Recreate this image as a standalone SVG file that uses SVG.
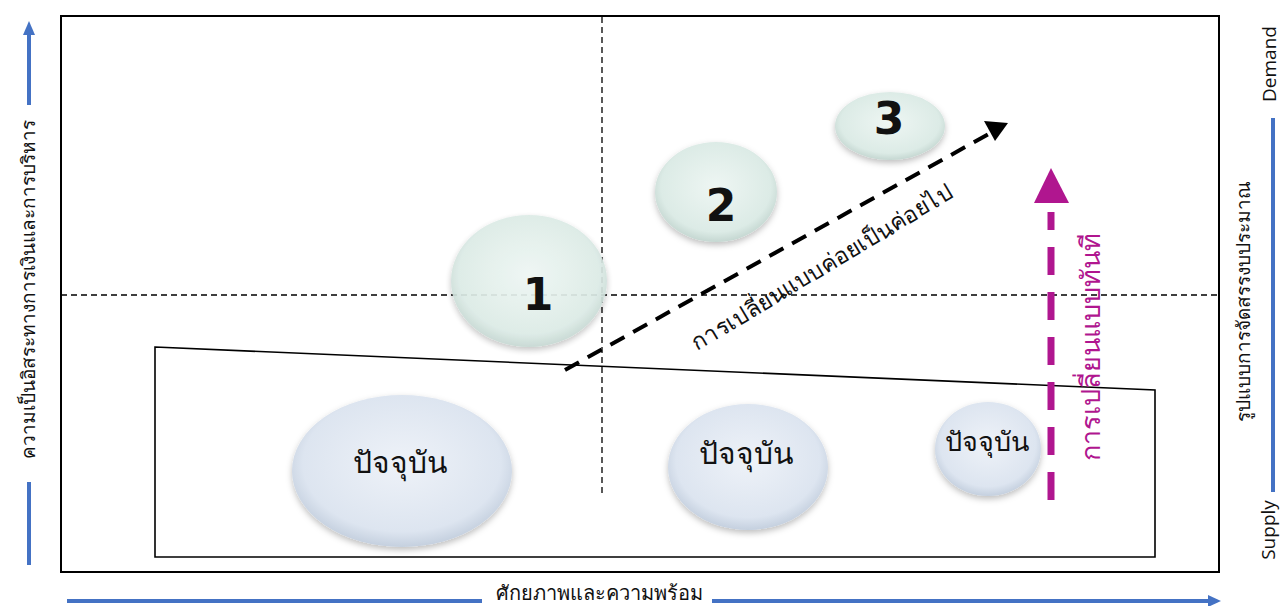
<svg xmlns="http://www.w3.org/2000/svg" width="1280" height="606" viewBox="0 0 1280 606">
<style>
.num{font-family:"DejaVu Sans","Liberation Sans",sans-serif;font-weight:bold;font-size:44px;fill:#111;text-anchor:middle;}
.cur{font-family:"Noto Sans","Liberation Sans",sans-serif;font-size:30px;fill:#111;text-anchor:middle;}
.axis{fill:none;stroke:#4472C4;stroke-width:4;}
.guide{fill:none;stroke:#000;stroke-width:1.3;stroke-dasharray:6 4;}
.lbl{font-family:"Noto Sans","Liberation Sans",sans-serif;font-size:19px;fill:#111;text-anchor:middle;}
.en{font-family:"Open Sans","Liberation Sans",sans-serif;font-size:19px;fill:#111;text-anchor:middle;}
</style>
<defs>
<radialGradient id="gGreen" cx="0.5" cy="0.45" r="0.6">
<stop offset="0" stop-color="#eef6f3"/>
<stop offset="0.75" stop-color="#dcebe6"/>
<stop offset="1" stop-color="#b9cdc7"/>
</radialGradient>
<radialGradient id="gBlue" cx="0.5" cy="0.45" r="0.6">
<stop offset="0" stop-color="#eef2f8"/>
<stop offset="0.75" stop-color="#dde5f0"/>
<stop offset="1" stop-color="#b8c5d6"/>
</radialGradient>
<filter id="sh" x="-20%" y="-20%" width="140%" height="150%">
<feDropShadow dx="0" dy="3" stdDeviation="3" flood-color="#000" flood-opacity="0.25"/>
</filter>
</defs>
<rect width="1280" height="606" fill="#fff"/>

<g id="frame">
<rect x="61" y="16" width="1158" height="556" fill="none" stroke="#000" stroke-width="2"/>
</g>

<g id="guides">
<line class="guide" x1="61" y1="295" x2="1219" y2="295"/>
<line class="guide" x1="602" y1="17" x2="602" y2="495"/>
</g>

<g id="current-box">
<polygon points="155,347 1155,390 1155,557 155,557" fill="none" stroke="#000" stroke-width="1.6"/>
</g>

<g id="node-1">
<ellipse cx="529" cy="281" rx="78" ry="66" fill="url(#gGreen)" filter="url(#sh)" opacity="0.92"/>
<text class="num" x="538" y="310">1</text>
</g>
<g id="node-2">
<ellipse cx="716" cy="192" rx="61" ry="50" fill="url(#gGreen)" filter="url(#sh)"/>
<text class="num" x="721" y="221">2</text>
</g>
<g id="node-3">
<ellipse cx="890" cy="126" rx="55" ry="34" fill="url(#gGreen)" filter="url(#sh)"/>
<text class="num" x="889" y="134">3</text>
</g>

<g id="current-1">
<ellipse cx="402" cy="471" rx="110" ry="76" fill="url(#gBlue)" filter="url(#sh)"/>
<text class="cur" x="400" y="473">ปัจจุบัน</text>
</g>
<g id="current-2">
<ellipse cx="748" cy="467" rx="80" ry="63" fill="url(#gBlue)" filter="url(#sh)"/>
<text class="cur" x="746" y="464">ปัจจุบัน</text>
</g>
<g id="current-3">
<ellipse cx="988" cy="449" rx="53" ry="47" fill="url(#gBlue)" filter="url(#sh)"/>
<text class="cur" x="987" y="451" style="font-size:27px">ปัจจุบัน</text>
</g>

<g id="connectors">
<line x1="565" y1="370" x2="994" y2="131" stroke="#000" stroke-width="4" stroke-dasharray="16 10"/>
<path d="M1008,123 L984,121 L995,141 z" fill="#000"/>
<line x1="1051" y1="500" x2="1051" y2="212" stroke="#B0168F" stroke-width="7" stroke-dasharray="28 17"/>
<path d="M1051,168 L1069,203 L1034,203 z" fill="#B0168F"/>
</g>

<g id="labels">
<text class="lbl" transform="translate(826,274) rotate(-31)" style="font-size:23px">การเปลี่ยนแบบค่อยเป็นค่อยไป</text>
<text class="lbl" transform="translate(1100,347) rotate(-90)" style="font-size:27px;fill:#B0168F">การเปลี่ยนแบบทันที</text>
</g>

<g id="axis-x">
<line class="axis" x1="67" y1="601" x2="482" y2="601"/>
<line class="axis" x1="712" y1="601" x2="1210" y2="601"/>
<path d="M1221,601 L1208,595 L1208,607 z" fill="#4472C4"/>
<text class="lbl" x="599" y="600" style="font-size:20px">ศักยภาพและความพร้อม</text>
</g>

<g id="axis-y-left">
<line class="axis" x1="29" y1="34" x2="29" y2="105"/>
<path d="M29,21 L23,35 L35,35 z" fill="#4472C4"/>
<line class="axis" x1="29" y1="482" x2="29" y2="565"/>
<text class="lbl" transform="translate(35,289) rotate(-90)">ความเป็นอิสระทางการเงินและการบริหาร</text>
</g>

<g id="axis-y-right">
<line class="axis" x1="1273" y1="118" x2="1273" y2="492"/>
<text class="en" transform="translate(1276,64) rotate(-90)">Demand</text>
<text class="en" transform="translate(1275,530) rotate(-90)">Supply</text>
<text class="lbl" transform="translate(1250,301) rotate(-90)">รูปแบบการจัดสรรงบประมาณ</text>
</g>
</svg>
